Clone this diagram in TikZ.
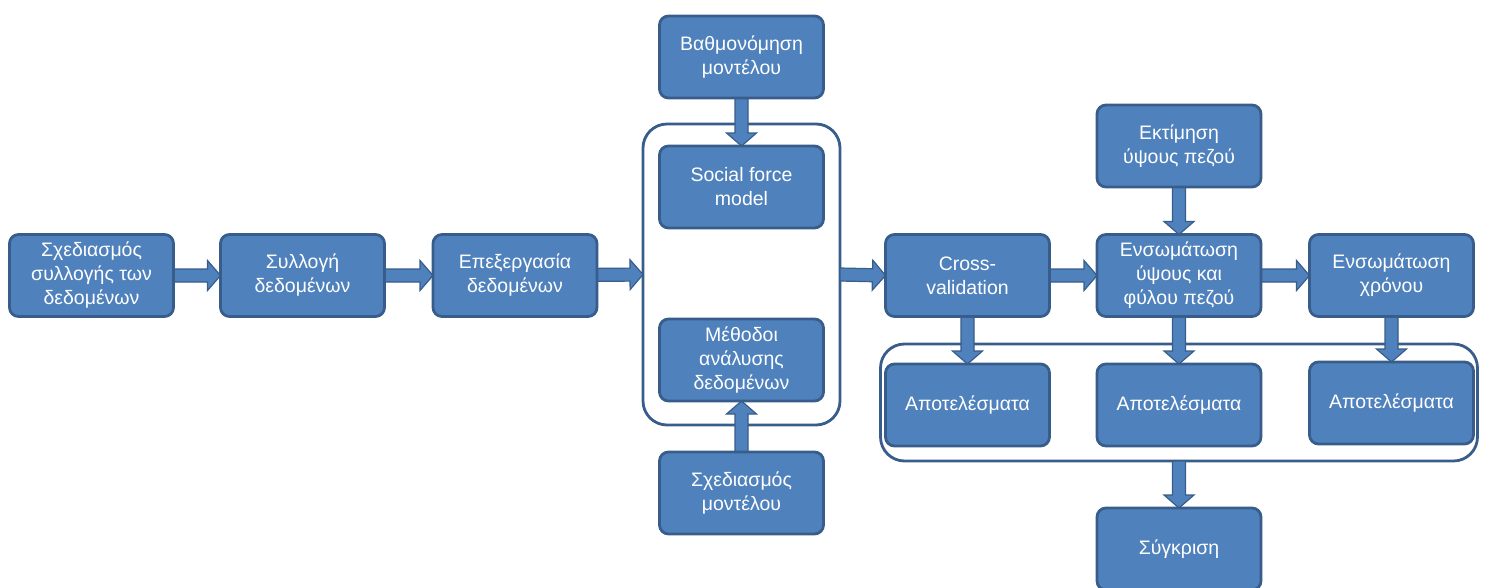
\documentclass[tikz,border=0pt]{standalone}
\usepackage{fontspec}
\setmainfont{Liberation Sans}
\usetikzlibrary{calc}
\definecolor{boxfill}{HTML}{4F81BD}
\definecolor{boxline}{HTML}{385D8A}

\pgfdeclarelayer{frames}
\pgfdeclarelayer{arrows}
\pgfsetlayers{frames,arrows,main}

\tikzset{
  stage/.style={draw=boxline, fill=boxfill, line width=2.8pt, rounded corners=9pt,
    minimum width=164pt, minimum height=82pt, text=white, align=center,
    font=\fontsize{19.5}{24}\selectfont, inner sep=2pt, outer sep=0pt},
  group/.style={draw=boxline, line width=2.8pt, rounded corners=24pt, fill=white,
    inner sep=0pt, outer sep=0pt},
  blockarrow/.style={draw=boxline, fill=boxfill, line width=1.2pt, line join=miter}
}

% block arrow from #1 to #2, tip at #2
\newcommand\flowarrow[2]{%
  \coordinate (ah) at ($(#2)!13pt!(#1)$);
  \draw[blockarrow] ($(#1)!6.5pt!90:(#2)$) -- ($(ah)!6.5pt!90:(#2)$)
    -- ($(ah)!15pt!90:(#2)$) -- (#2) -- ($(ah)!15pt!-90:(#2)$)
    -- ($(ah)!6.5pt!-90:(#2)$) -- ($(#1)!6.5pt!-90:(#2)$) -- cycle;
}

\begin{document}
\begin{tikzpicture}[x=1pt, y=-1pt]
\useasboundingbox (0,0) rectangle (1486,587);

% process steps
\path
  (91.5,275.5) node[stage] (plan) {Σχεδιασμός\\συλλογής των\\δεδομένων}
  (302.5,275.5) node[stage] (collect) {Συλλογή\\δεδομένων}
  (515,275.5) node[stage] (process) {Επεξεργασία\\δεδομένων}
  (741.5,57) node[stage] (calib) {Βαθμονόμηση\\μοντέλου}
  (741.5,187) node[stage] (sfm) {Social force\\model}
  (741.5,360) node[stage] (methods) {Μέθοδοι\\ανάλυσης\\δεδομένων}
  (741.5,493) node[stage] (design) {Σχεδιασμός\\μοντέλου}
  (967.5,275.5) node[stage] (cv) {Cross-\\validation}
  (1179,146) node[stage] (height) {Εκτίμηση\\ύψους πεζού}
  (1179,275.5) node[stage] (embed) {Ενσωμάτωση\\ύψους και\\φύλου πεζού}
  (1391.5,275.5) node[stage] (time) {Ενσωμάτωση\\χρόνου}
  (967.5,405) node[stage] (resA) {Αποτελέσματα}
  (1179,405) node[stage] (resB) {Αποτελέσματα}
  (1391.5,403) node[stage] (resC) {Αποτελέσματα}
  (1179,549) node[stage] (compare) {Σύγκριση};

% grouping frames
\begin{pgfonlayer}{frames}
  \node[group, minimum width=197pt, minimum height=301pt] (grpA) at (741.5,274.5) {};
  \node[group, minimum width=597pt, minimum height=117pt] (grpB) at (1179,402.5) {};
\end{pgfonlayer}

% arrows that start on a frame
\coordinate (grpAout) at (grpA.east);
\coordinate (grpBout) at (grpB.south -| compare);

% connectors
\begin{pgfonlayer}{arrows}
  \flowarrow{plan.center}{collect.west}
  \flowarrow{collect.center}{process.west}
  \flowarrow{process.center}{grpA.west}
  \flowarrow{grpAout}{cv.west}
  \flowarrow{cv.center}{embed.west}
  \flowarrow{embed.center}{time.west}
  \flowarrow{calib.center}{sfm.north}
  \flowarrow{design.center}{methods.south}
  \flowarrow{height.center}{embed.north}
  \flowarrow{cv.center}{resA.north}
  \flowarrow{embed.center}{resB.north}
  \flowarrow{time.center}{resC.north}
  \flowarrow{grpBout}{compare.north}
\end{pgfonlayer}
\end{tikzpicture}
\end{document}
